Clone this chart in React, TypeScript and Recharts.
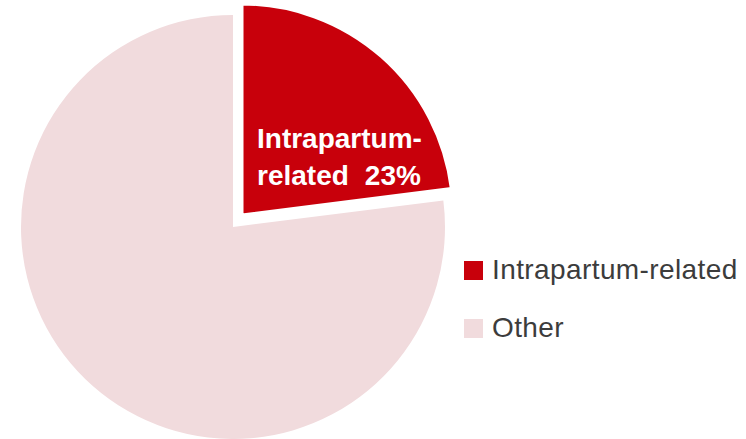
import { Cell, Legend, Pie, PieChart } from 'recharts'

const categories = ['Intrapartum-related', 'Other']
const shares = [23, 77]
const colors = ['#c8000b', '#f1dbdd']

const data = categories.map((name, i) => ({ name, value: shares[i] }))

const renderLabel = (props: any) => {
	const { cx, cy, index } = props
	if (index !== 0) return null
	return (
		<text
			x={cx + 15}
			y={cy - 67}
			fill='#ffffff'
			style={{ fontSize: 28, fontWeight: 700, fontFamily: 'Liberation Sans, Arial, sans-serif' }}
		>
			<tspan x={cx + 15}>Intrapartum-</tspan>
			<tspan x={cx + 15} dy={37}>
				related
			</tspan>
			<tspan dx={16}>{`${shares[0]}%`}</tspan>
		</text>
	)
}

const LegendBox = () => (
	<div style={{ fontFamily: 'Liberation Sans, Arial, sans-serif' }}>
		{categories.map((name, i) => (
			<div
				key={name}
				style={{ display: 'flex', alignItems: 'center', height: 58 }}
			>
				<span
					style={{
						width: 19,
						height: 19,
						background: colors[i],
						marginRight: 9,
						display: 'inline-block',
					}}
				/>
				<span style={{ fontSize: 28, color: '#3c3c3c', letterSpacing: 0.4 }}>
					{name}
				</span>
			</div>
		))}
	</div>
)

export default function App() {
	return (
		<div style={{ position: 'absolute', left: 0, top: 0, width: 746, height: 439, background: '#fff' }}>
			<PieChart width={746} height={439} margin={{ top: 0, right: 0, bottom: 0, left: 0 }}>
				<Pie
					data={data}
					dataKey='value'
					nameKey='name'
					cx={233}
					cy={227}
					outerRadius={212}
					startAngle={90}
					endAngle={-270}
					stroke='none'
					isAnimationActive={false}
				>
					{data.map((entry, i) => (
						<Cell key={entry.name} fill={i === 0 ? 'transparent' : colors[i]} />
					))}
				</Pie>
				<Pie
					data={data}
					dataKey='value'
					nameKey='name'
					cx={242}
					cy={215}
					outerRadius={211}
					startAngle={90}
					endAngle={-270}
					label={renderLabel}
					labelLine={false}
					isAnimationActive={false}
				>
					{data.map((entry, i) => (
						<Cell
							key={entry.name}
							fill={i === 0 ? colors[0] : 'transparent'}
							stroke={i === 0 ? '#ffffff' : 'none'}
							strokeWidth={3}
						/>
					))}
				</Pie>
				<Legend
					content={<LegendBox />}
					wrapperStyle={{ left: 464, top: 241, width: 282 }}
				/>
			</PieChart>
		</div>
	)
}
